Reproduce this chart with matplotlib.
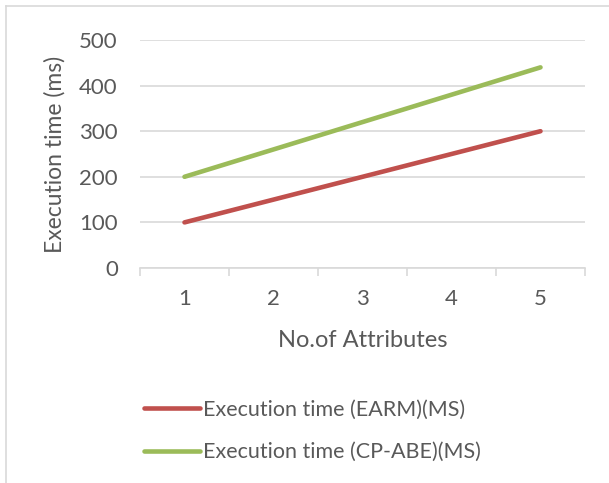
import numpy as np
import matplotlib
matplotlib.use('Agg')
from matplotlib import pyplot as plt
from matplotlib.lines import Line2D

plt.rcParams['font.family'] = ['Lato', 'DejaVu Sans']

attributes = [1, 2, 3, 4, 5]
earm = [100, 150, 200, 250, 300]
cpabe = [200, 260, 320, 380, 440]
yticks = [0, 100, 200, 300, 400, 500]

red = '#C0504D'
green = '#9BBB59'
grid_c = '#D9D9D9'
text_c = '#595959'

fig = plt.figure(figsize=(6.09, 4.83), dpi=100)
ax = fig.add_axes([140 / 609, 1 - 268 / 483, 445 / 609, 228 / 483])

x = np.arange(len(attributes))
ax.plot(x, earm, color=red, lw=3.3, solid_capstyle='round', label='Execution time (EARM)(MS)')
ax.plot(x, cpabe, color=green, lw=3.3, solid_capstyle='round', label='Execution time (CP-ABE)(MS)')

ax.set_xlim(-0.5, len(attributes) - 0.5)
ax.set_ylim(0, 500)
ax.set_yticks(yticks)
ax.set_xticks(x)
ax.set_xticklabels([str(a) for a in attributes])
ax.set_xticks(np.arange(len(attributes) + 1) - 0.5, minor=True)

ax.grid(axis='y', color=grid_c, lw=1.2)
ax.set_axisbelow(True)
for s in ['top', 'right', 'left']:
    ax.spines[s].set_visible(False)
ax.spines['bottom'].set_color(grid_c)
ax.spines['bottom'].set_linewidth(1.2)

ax.tick_params(axis='y', length=0, pad=16, labelsize=16, labelcolor=text_c)
ax.tick_params(axis='x', which='major', length=0, pad=15, labelsize=16, labelcolor=text_c)
ax.tick_params(axis='x', which='minor', length=6, width=1.2, color=grid_c)

ax.set_ylabel('Execution time (ms)', fontsize=16.5, color=text_c, labelpad=10)
ax.set_xlabel('No.of Attributes', fontsize=17, color=text_c, labelpad=15)

fig.legend(loc='center', bbox_to_anchor=(0.513, 1 - 431 / 483), frameon=False,
           fontsize=15.5, labelcolor=text_c, handlelength=2.6, handletextpad=0.12,
           labelspacing=1.05)

# chart border
fig.add_artist(Line2D([6 / 609, 1], [1 - 6 / 483] * 2, color=grid_c, lw=1.2))
fig.add_artist(Line2D([6 / 609] * 2, [0, 1 - 6 / 483], color=grid_c, lw=1.2))

fig.savefig('out.png', dpi=100)
